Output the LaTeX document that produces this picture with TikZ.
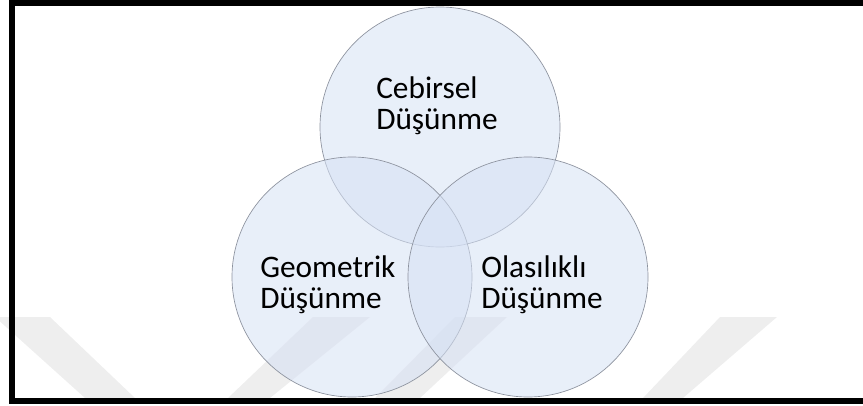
\documentclass[tikz,border=0pt]{standalone}
\usepackage{fontspec}
\setmainfont{Carlito}
\definecolor{vennfill}{RGB}{214,225,244}
\definecolor{vennedge}{RGB}{140,146,158}
\definecolor{markgray}{RGB}{238,238,238}

\begin{document}
\begin{tikzpicture}[x=0.75pt, y=0.75pt,
	venn/.style={circle, draw=vennedge, line width=0.5pt, fill=vennfill, fill opacity=0.55, minimum size=180pt, inner sep=0},
	label/.style={align=left, anchor=west, inner sep=0, font=\fontsize{23.5pt}{23pt}\selectfont}]
	\useasboundingbox (0,0) rectangle (863,405);
	\clip (0,0) rectangle (863,405);
	% faint background marks
	\fill[markgray] (-5,88) -- (50,88) -- (135,7) -- (85,7) -- cycle;
	\fill[markgray] (313,88) -- (370,88) -- (270,7) -- (228,7) -- cycle;
	\fill[markgray] (455,88) -- (507,88) -- (420,7) -- (375,7) -- cycle;
	\fill[markgray] (720,88) -- (777,88) -- (683,7) -- (643,7) -- cycle;
	% the three circles
	\node[venn] (cebirsel) at (440,278) {};
	\node[venn] (geometrik) at (352,128) {};
	\node[venn] (olasilikli) at (528,128) {};
	% texts
	\node[label] (cebirselText) at (376,299) {Cebirsel\\Düşünme};
	\node[label] (geometrikText) at (260,120) {Geometrik\\Düşünme};
	\node[label] (olasilikliText) at (481,120) {Olasılıklı\\Düşünme};
	% frame
	\draw[line width=4.5pt] (880,402) -- (12,402) -- (12,4.5) -- (880,4.5);
\end{tikzpicture}
\end{document}
